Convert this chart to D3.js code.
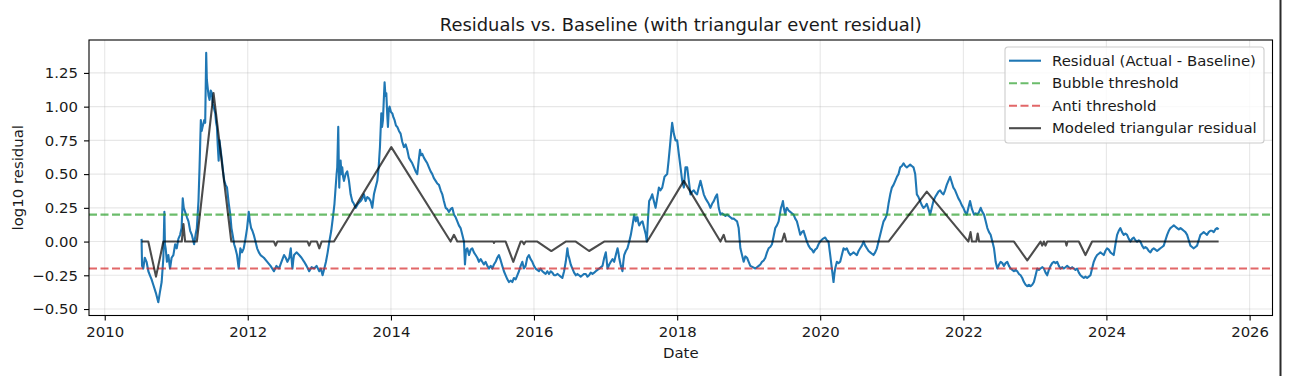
<!DOCTYPE html>
<html>
<head>
<meta charset="utf-8">
<script src="https://cdn.jsdelivr.net/npm/d3@7"></script>
<style>
  body { margin: 0; background: #fff; }
  text { font-family: "DejaVu Sans", sans-serif; fill: #1a1a1a; }
</style>
</head>
<body>
<div id="chart"></div>
<script>
// residual (actual - baseline), dates as decimal years
var resYears = [
  2010.515, 2010.522, 2010.539, 2010.560, 2010.585, 2010.610, 2010.632, 2010.655, 2010.679, 2010.715,
  2010.749, 2010.770, 2010.796, 2010.820, 2010.834, 2010.842, 2010.852, 2010.870, 2010.890, 2010.913,
  2010.935, 2010.960, 2010.985, 2011.007, 2011.030, 2011.054, 2011.075, 2011.091, 2011.105, 2011.124,
  2011.150, 2011.171, 2011.195, 2011.218, 2011.250, 2011.270, 2011.288, 2011.311, 2011.326, 2011.344,
  2011.356, 2011.368, 2011.391, 2011.405, 2011.419, 2011.428, 2011.438, 2011.452, 2011.466, 2011.482,
  2011.499, 2011.510, 2011.522, 2011.546, 2011.558, 2011.569, 2011.580, 2011.593, 2011.605, 2011.616,
  2011.639, 2011.655, 2011.672, 2011.690, 2011.710, 2011.735, 2011.756, 2011.772, 2011.789, 2011.810,
  2011.827, 2011.850, 2011.874, 2011.897, 2011.920, 2011.944, 2011.968, 2011.991, 2012.014, 2012.030,
  2012.047, 2012.065, 2012.084, 2012.108, 2012.131, 2012.155, 2012.178, 2012.225, 2012.272, 2012.318,
  2012.365, 2012.400, 2012.436, 2012.470, 2012.506, 2012.530, 2012.553, 2012.580, 2012.600, 2012.610,
  2012.623, 2012.635, 2012.646, 2012.680, 2012.717, 2012.750, 2012.787, 2012.820, 2012.857, 2012.890,
  2012.927, 2012.960, 2012.998, 2013.020, 2013.044, 2013.068, 2013.091, 2013.115, 2013.138, 2013.165,
  2013.193, 2013.210, 2013.226, 2013.240, 2013.249, 2013.263, 2013.270, 2013.277, 2013.286, 2013.296,
  2013.308, 2013.319, 2013.331, 2013.343, 2013.366, 2013.389, 2013.413, 2013.436, 2013.459, 2013.482,
  2013.506, 2013.540, 2013.576, 2013.600, 2013.622, 2013.645, 2013.669, 2013.693, 2013.716, 2013.739,
  2013.762, 2013.785, 2013.809, 2013.828, 2013.846, 2013.865, 2013.876, 2013.888, 2013.900, 2013.911,
  2013.923, 2013.935, 2013.947, 2013.958, 2013.970, 2013.981, 2014.000, 2014.019, 2014.035, 2014.051,
  2014.070, 2014.089, 2014.112, 2014.135, 2014.158, 2014.182, 2014.205, 2014.228, 2014.252, 2014.275,
  2014.298, 2014.322, 2014.345, 2014.368, 2014.388, 2014.406, 2014.420, 2014.438, 2014.462, 2014.485,
  2014.508, 2014.531, 2014.555, 2014.578, 2014.600, 2014.625, 2014.648, 2014.671, 2014.695, 2014.718,
  2014.740, 2014.765, 2014.788, 2014.811, 2014.835, 2014.858, 2014.881, 2014.905, 2014.928, 2014.950,
  2014.974, 2014.998, 2015.021, 2015.035, 2015.050, 2015.068, 2015.091, 2015.115, 2015.138, 2015.160,
  2015.184, 2015.208, 2015.231, 2015.255, 2015.277, 2015.300, 2015.324, 2015.348, 2015.371, 2015.395,
  2015.417, 2015.440, 2015.464, 2015.487, 2015.510, 2015.535, 2015.557, 2015.580, 2015.604, 2015.628,
  2015.650, 2015.673, 2015.697, 2015.720, 2015.744, 2015.767, 2015.790, 2015.814, 2015.837, 2015.860,
  2015.883, 2015.906, 2015.930, 2015.953, 2015.977, 2016.000, 2016.023, 2016.047, 2016.070, 2016.093,
  2016.117, 2016.140, 2016.163, 2016.186, 2016.210, 2016.233, 2016.256, 2016.280, 2016.303, 2016.326,
  2016.350, 2016.373, 2016.396, 2016.420, 2016.443, 2016.455, 2016.466, 2016.478, 2016.490, 2016.513,
  2016.536, 2016.560, 2016.583, 2016.606, 2016.629, 2016.652, 2016.676, 2016.700, 2016.723, 2016.746,
  2016.769, 2016.792, 2016.816, 2016.840, 2016.862, 2016.885, 2016.909, 2016.932, 2016.956, 2016.980,
  2017.002, 2017.014, 2017.026, 2017.050, 2017.072, 2017.096, 2017.119, 2017.142, 2017.166, 2017.178,
  2017.189, 2017.200, 2017.212, 2017.224, 2017.235, 2017.247, 2017.259, 2017.282, 2017.305, 2017.330,
  2017.352, 2017.375, 2017.399, 2017.410, 2017.422, 2017.433, 2017.445, 2017.457, 2017.469, 2017.492,
  2017.515, 2017.538, 2017.562, 2017.575, 2017.590, 2017.608, 2017.630, 2017.651, 2017.674, 2017.698,
  2017.720, 2017.744, 2017.767, 2017.791, 2017.823, 2017.860, 2017.880, 2017.898, 2017.915, 2017.930,
  2017.953, 2017.977, 2018.000, 2018.023, 2018.047, 2018.070, 2018.093, 2018.116, 2018.140, 2018.163,
  2018.186, 2018.210, 2018.233, 2018.256, 2018.279, 2018.302, 2018.326, 2018.349, 2018.372, 2018.396,
  2018.419, 2018.442, 2018.465, 2018.488, 2018.512, 2018.535, 2018.558, 2018.581, 2018.605, 2018.628,
  2018.651, 2018.675, 2018.698, 2018.721, 2018.744, 2018.767, 2018.791, 2018.814, 2018.837, 2018.860,
  2018.884, 2018.907, 2018.930, 2018.953, 2018.977, 2019.000, 2019.023, 2019.058, 2019.093, 2019.116,
  2019.140, 2019.163, 2019.186, 2019.210, 2019.233, 2019.256, 2019.279, 2019.302, 2019.326, 2019.349,
  2019.372, 2019.395, 2019.419, 2019.435, 2019.451, 2019.465, 2019.479, 2019.495, 2019.512, 2019.524,
  2019.535, 2019.558, 2019.581, 2019.605, 2019.628, 2019.651, 2019.674, 2019.698, 2019.721, 2019.744,
  2019.767, 2019.790, 2019.814, 2019.837, 2019.860, 2019.884, 2019.907, 2019.930, 2019.953, 2019.977,
  2020.000, 2020.035, 2020.070, 2020.093, 2020.116, 2020.140, 2020.163, 2020.186, 2020.198, 2020.209,
  2020.233, 2020.256, 2020.279, 2020.302, 2020.326, 2020.349, 2020.372, 2020.395, 2020.419, 2020.442,
  2020.465, 2020.488, 2020.512, 2020.535, 2020.558, 2020.581, 2020.605, 2020.628, 2020.651, 2020.675,
  2020.698, 2020.721, 2020.744, 2020.767, 2020.791, 2020.814, 2020.837, 2020.860, 2020.884, 2020.907,
  2020.930, 2020.953, 2020.977, 2021.000, 2021.023, 2021.047, 2021.070, 2021.093, 2021.116, 2021.140,
  2021.163, 2021.186, 2021.209, 2021.233, 2021.256, 2021.279, 2021.302, 2021.326, 2021.349, 2021.372,
  2021.395, 2021.418, 2021.442, 2021.465, 2021.488, 2021.512, 2021.535, 2021.558, 2021.581, 2021.605,
  2021.628, 2021.651, 2021.674, 2021.698, 2021.721, 2021.744, 2021.767, 2021.790, 2021.814, 2021.837,
  2021.860, 2021.884, 2021.907, 2021.930, 2021.953, 2021.977, 2022.000, 2022.023, 2022.047, 2022.070,
  2022.093, 2022.120, 2022.149, 2022.172, 2022.195, 2022.220, 2022.242, 2022.265, 2022.288, 2022.312,
  2022.335, 2022.358, 2022.381, 2022.405, 2022.428, 2022.440, 2022.451, 2022.474, 2022.498, 2022.521,
  2022.544, 2022.567, 2022.590, 2022.614, 2022.637, 2022.660, 2022.684, 2022.707, 2022.730, 2022.753,
  2022.777, 2022.800, 2022.823, 2022.847, 2022.870, 2022.893, 2022.917, 2022.940, 2022.963, 2022.986,
  2023.010, 2023.033, 2023.056, 2023.079, 2023.102, 2023.126, 2023.149, 2023.172, 2023.195, 2023.219,
  2023.242, 2023.265, 2023.288, 2023.312, 2023.335, 2023.358, 2023.381, 2023.405, 2023.428, 2023.451,
  2023.474, 2023.498, 2023.521, 2023.544, 2023.567, 2023.591, 2023.614, 2023.637, 2023.660, 2023.684,
  2023.707, 2023.730, 2023.753, 2023.777, 2023.800, 2023.823, 2023.847, 2023.870, 2023.893, 2023.916,
  2023.940, 2023.963, 2023.986, 2024.009, 2024.033, 2024.056, 2024.079, 2024.102, 2024.126, 2024.149,
  2024.172, 2024.195, 2024.218, 2024.242, 2024.265, 2024.288, 2024.312, 2024.335, 2024.358, 2024.381,
  2024.405, 2024.428, 2024.451, 2024.474, 2024.498, 2024.521, 2024.544, 2024.567, 2024.591, 2024.614,
  2024.637, 2024.660, 2024.684, 2024.707, 2024.730, 2024.753, 2024.777, 2024.800, 2024.823, 2024.847,
  2024.870, 2024.893, 2024.917, 2024.940, 2024.963, 2024.986, 2025.010, 2025.033, 2025.056, 2025.079,
  2025.102, 2025.126, 2025.149, 2025.172, 2025.195, 2025.219, 2025.242, 2025.265, 2025.288, 2025.312,
  2025.335, 2025.358, 2025.381, 2025.405, 2025.428, 2025.451, 2025.474, 2025.498, 2025.521, 2025.544,
  2025.567
]
var resValues = [
  0.02, -0.18, -0.20, -0.12, -0.15, -0.22, -0.25, -0.28, -0.32, -0.38,
  -0.45, -0.38, -0.30, -0.12, 0.22, -0.02, -0.05, -0.15, -0.10, -0.20,
  -0.12, -0.10, -0.02, -0.05, 0.02, 0.05, 0.10, 0.32, 0.25, 0.22,
  0.18, 0.15, 0.08, 0.05, -0.02, 0.05, 0.10, 0.30, 0.55, 0.90,
  0.82, 0.85, 0.90, 0.88, 1.40, 1.20, 1.15, 1.08, 1.05, 1.12,
  1.10, 1.02, 1.00, 0.95, 0.88, 0.85, 0.72, 0.60, 0.75, 0.70,
  0.60, 0.52, 0.45, 0.42, 0.40, 0.28, 0.20, 0.10, 0.05, -0.02,
  -0.05, -0.10, -0.20, -0.05, -0.08, -0.05, 0.02, 0.10, 0.22, 0.15,
  0.10, 0.08, 0.05, 0.00, -0.05, -0.08, -0.10, -0.12, -0.15, -0.18,
  -0.22, -0.18, -0.20, -0.15, -0.10, -0.12, -0.15, -0.12, -0.05, -0.12,
  -0.20, -0.14, -0.10, -0.08, -0.10, -0.12, -0.15, -0.18, -0.22, -0.19,
  -0.20, -0.18, -0.22, -0.20, -0.25, -0.20, -0.15, -0.08, 0.00, 0.08,
  0.20, 0.28, 0.40, 0.50, 0.55, 0.85, 0.60, 0.40, 0.55, 0.60,
  0.50, 0.55, 0.48, 0.45, 0.50, 0.52, 0.45, 0.35, 0.30, 0.28,
  0.25, 0.28, 0.30, 0.32, 0.35, 0.30, 0.33, 0.32, 0.30, 0.25,
  0.35, 0.40, 0.45, 0.55, 0.70, 0.95, 0.85, 0.90, 1.05, 1.18,
  1.08, 1.10, 0.95, 0.85, 0.98, 1.00, 0.96, 0.95, 0.92, 0.90,
  0.86, 0.85, 0.82, 0.80, 0.74, 0.70, 0.72, 0.68, 0.62, 0.60,
  0.58, 0.55, 0.52, 0.50, 0.60, 0.68, 0.64, 0.65, 0.62, 0.60,
  0.58, 0.55, 0.52, 0.50, 0.47, 0.45, 0.43, 0.42, 0.38, 0.35,
  0.30, 0.25, 0.24, 0.22, 0.24, 0.25, 0.20, 0.18, 0.15, 0.12,
  0.10, 0.05, 0.00, -0.17, -0.06, -0.05, -0.10, -0.06, -0.05, -0.08,
  -0.10, -0.12, -0.15, -0.13, -0.15, -0.17, -0.15, -0.18, -0.20, -0.18,
  -0.20, -0.17, -0.15, -0.12, -0.10, -0.14, -0.18, -0.22, -0.25, -0.28,
  -0.30, -0.29, -0.30, -0.27, -0.28, -0.25, -0.22, -0.18, -0.15, -0.20,
  -0.18, -0.12, -0.10, -0.13, -0.15, -0.18, -0.20, -0.21, -0.22, -0.20,
  -0.22, -0.23, -0.24, -0.22, -0.24, -0.22, -0.23, -0.25, -0.25, -0.24,
  -0.25, -0.26, -0.27, -0.22, -0.15, -0.10, -0.05, -0.10, -0.12, -0.17,
  -0.20, -0.23, -0.25, -0.24, -0.25, -0.26, -0.25, -0.24, -0.24, -0.26,
  -0.25, -0.23, -0.24, -0.23, -0.22, -0.21, -0.20, -0.19, -0.18, -0.12,
  -0.08, -0.14, -0.20, -0.17, -0.15, -0.13, -0.15, -0.10, -0.05, -0.08,
  -0.12, -0.15, -0.18, -0.20, -0.22, -0.15, -0.10, -0.07, -0.05, 0.00,
  0.05, 0.12, 0.20, 0.17, 0.15, 0.18, 0.18, 0.14, 0.12, 0.14,
  0.15, 0.10, 0.05, 0.00, 0.15, 0.30, 0.32, 0.35, 0.30, 0.25,
  0.32, 0.40, 0.38, 0.40, 0.48, 0.50, 0.60, 0.70, 0.80, 0.88,
  0.80, 0.75, 0.75, 0.65, 0.55, 0.45, 0.40, 0.55, 0.55, 0.45,
  0.35, 0.37, 0.38, 0.36, 0.35, 0.40, 0.45, 0.40, 0.35, 0.32,
  0.30, 0.28, 0.25, 0.28, 0.30, 0.33, 0.35, 0.25, 0.20, 0.21,
  0.20, 0.19, 0.20, 0.19, 0.18, 0.17, 0.17, 0.16, 0.15, 0.10,
  -0.05, -0.10, -0.15, -0.11, -0.12, -0.15, -0.18, -0.19, -0.20, -0.19,
  -0.18, -0.17, -0.15, -0.14, -0.12, -0.08, -0.05, -0.04, -0.02, 0.04,
  0.10, 0.12, 0.15, 0.20, 0.25, 0.27, 0.30, 0.24, 0.20, 0.24,
  0.25, 0.23, 0.22, 0.21, 0.20, 0.17, 0.15, 0.10, 0.05, 0.07,
  0.08, 0.04, 0.00, -0.03, -0.05, -0.06, -0.08, -0.06, -0.05, -0.02,
  0.00, 0.02, 0.03, 0.01, 0.00, -0.10, -0.20, -0.30, -0.24, -0.20,
  -0.15, -0.16, -0.15, -0.10, -0.05, -0.06, -0.05, -0.08, -0.10, -0.09,
  -0.08, -0.09, -0.10, -0.07, -0.05, -0.03, 0.00, -0.03, -0.05, -0.07,
  -0.08, -0.09, -0.10, -0.08, -0.05, 0.00, 0.05, 0.10, 0.15, 0.17,
  0.20, 0.28, 0.35, 0.40, 0.42, 0.45, 0.48, 0.50, 0.55, 0.56,
  0.58, 0.56, 0.55, 0.56, 0.57, 0.56, 0.55, 0.50, 0.35, 0.33,
  0.30, 0.27, 0.25, 0.26, 0.28, 0.24, 0.20, 0.25, 0.30, 0.33,
  0.35, 0.37, 0.38, 0.36, 0.35, 0.38, 0.42, 0.45, 0.48, 0.44,
  0.40, 0.38, 0.35, 0.32, 0.30, 0.27, 0.25, 0.22, 0.20, 0.25,
  0.30, 0.24, 0.20, 0.21, 0.20, 0.22, 0.25, 0.22, 0.20, 0.15,
  0.10, 0.07, 0.05, 0.00, -0.05, -0.10, -0.15, -0.20, -0.17, -0.15,
  -0.16, -0.18, -0.16, -0.15, -0.18, -0.20, -0.21, -0.22, -0.21, -0.22,
  -0.24, -0.25, -0.27, -0.30, -0.32, -0.33, -0.32, -0.33, -0.32, -0.30,
  -0.25, -0.20, -0.21, -0.20, -0.19, -0.20, -0.23, -0.25, -0.21, -0.18,
  -0.16, -0.15, -0.16, -0.15, -0.18, -0.20, -0.19, -0.20, -0.19, -0.18,
  -0.19, -0.20, -0.19, -0.20, -0.21, -0.20, -0.23, -0.25, -0.26, -0.27,
  -0.26, -0.27, -0.26, -0.25, -0.20, -0.15, -0.12, -0.10, -0.09, -0.08,
  -0.09, -0.10, -0.07, -0.05, -0.06, -0.08, -0.09, -0.10, -0.02, 0.05,
  0.08, 0.10, 0.07, 0.05, 0.06, 0.05, 0.02, 0.00, 0.02, 0.03,
  0.01, 0.00, 0.01, 0.00, -0.03, -0.05, -0.04, -0.05, -0.07, -0.08,
  -0.06, -0.05, -0.06, -0.07, -0.06, -0.05, -0.04, -0.03, 0.01, 0.05,
  0.08, 0.10, 0.11, 0.12, 0.11, 0.10, 0.09, 0.10, 0.09, 0.08,
  0.07, 0.05, 0.01, -0.03, -0.04, -0.05, -0.04, -0.03, 0.01, 0.05,
  0.06, 0.07, 0.06, 0.05, 0.07, 0.08, 0.08, 0.07, 0.09, 0.10,
  0.09
]

// modeled triangular residual (piecewise linear)
var modelYears = [
  2010.515, 2010.609, 2010.717, 2010.820, 2011.077, 2011.101, 2011.124, 2011.288, 2011.522, 2011.770,
  2012.365, 2012.389, 2012.412, 2012.834, 2012.857, 2012.880, 2012.965, 2012.998, 2013.030, 2013.203,
  2014.005, 2014.834, 2014.881, 2014.928, 2015.431, 2015.441, 2015.451, 2015.604, 2015.711, 2015.814,
  2015.837, 2015.860, 2015.883, 2016.047, 2016.242, 2016.443, 2016.583, 2016.769, 2016.979, 2017.581,
  2018.093, 2018.605, 2018.651, 2018.679, 2019.465, 2019.498, 2019.526, 2020.953, 2021.488, 2022.070,
  2022.100, 2022.120, 2022.180, 2022.200, 2022.220, 2022.707, 2022.893, 2023.079, 2023.102, 2023.125,
  2023.148, 2023.172, 2023.428, 2023.442, 2023.456, 2023.614, 2023.707, 2023.800, 2025.567
]
var modelValues = [
  0, 0, -0.26, 0, 0, 0.13, 0, 0, 1.10, 0,
  0, -0.03, 0, 0, -0.03, 0, 0, -0.05, 0, 0,
  0.70, 0, 0.05, 0, 0, -0.01, 0, 0, -0.15, 0,
  0, -0.02, 0, 0, -0.07, 0, 0, -0.07, 0, 0,
  0.45, 0, 0.05, 0, 0, 0.06, 0, 0, 0.37, 0,
  0.07, 0, 0, 0.06, 0, 0, -0.14, 0, -0.03, 0,
  -0.03, 0, 0, -0.03, 0, 0, -0.10, 0, 0
]

var bubbleThreshold = 0.2
var antiThreshold = -0.2

var xTickYears = [2010, 2012, 2014, 2016, 2018, 2020, 2022, 2024, 2026]
var yTicks = [-0.5, -0.25, 0, 0.25, 0.5, 0.75, 1.0, 1.25]

var legendLabels = ["Residual (Actual - Baseline)", "Bubble threshold", "Anti threshold", "Modeled triangular residual"]

var margin = {top: 40, right: 17.5, bottom: 60.5, left: 89}
var width = 1290 - margin.left - margin.right
var height = 376 - margin.top - margin.bottom

function yearToDate(yr) {
  var y0 = Math.floor(yr)
  var a = Date.UTC(y0, 0, 1), b = Date.UTC(y0 + 1, 0, 1)
  return new Date(a + (yr - y0) * (b - a))
}

var root = d3.select("#chart")
  .append("svg")
  .attr("width", 1290)
  .attr("height", 376)

root.append("rect").attr("width", 1290).attr("height", 376).attr("fill", "#fff")

var svg = root.append("g")
  .attr("transform", "translate(" + margin.left + "," + margin.top + ")")

var x = d3.scaleUtc()
  .domain([yearToDate(2009.78), yearToDate(2026.32)])
  .range([0, width])

var y = d3.scaleLinear()
  .domain([-0.548, 1.494])
  .range([height, 0])

// grid
svg.append("g").selectAll("line")
  .data(xTickYears)
  .enter().append("line")
  .attr("x1", function(d) { return x(yearToDate(d)) })
  .attr("x2", function(d) { return x(yearToDate(d)) })
  .attr("y1", 0).attr("y2", height)
  .attr("stroke", "#b0b0b0").attr("stroke-opacity", 0.3).attr("stroke-width", 1.1)

svg.append("g").selectAll("line")
  .data(yTicks)
  .enter().append("line")
  .attr("y1", function(d) { return y(d) })
  .attr("y2", function(d) { return y(d) })
  .attr("x1", 0).attr("x2", width)
  .attr("stroke", "#b0b0b0").attr("stroke-opacity", 0.3).attr("stroke-width", 1.1)

var residual = resYears.map(function(d, i) { return {date: yearToDate(d), value: resValues[i]} })
var model = modelYears.map(function(d, i) { return {date: yearToDate(d), value: modelValues[i]} })

var line = d3.line()
  .x(function(d) { return x(d.date) })
  .y(function(d) { return y(d.value) })

svg.append("path")
  .datum(residual)
  .attr("fill", "none")
  .attr("stroke", "#1f77b4")
  .attr("stroke-width", 2.1)
  .attr("stroke-linejoin", "round")
  .attr("d", line)

// thresholds span the whole axes
svg.append("line")
  .attr("x1", 0).attr("x2", width)
  .attr("y1", y(bubbleThreshold)).attr("y2", y(bubbleThreshold))
  .attr("stroke", "#2ca02c").attr("stroke-opacity", 0.7)
  .attr("stroke-width", 2.1).attr("stroke-dasharray", "8,3.5")

svg.append("line")
  .attr("x1", 0).attr("x2", width)
  .attr("y1", y(antiThreshold)).attr("y2", y(antiThreshold))
  .attr("stroke", "#d62728").attr("stroke-opacity", 0.7)
  .attr("stroke-width", 2.1).attr("stroke-dasharray", "8,3.5")

svg.append("path")
  .datum(model)
  .attr("fill", "none")
  .attr("stroke", "#000")
  .attr("stroke-opacity", 0.7)
  .attr("stroke-width", 2.1)
  .attr("stroke-linejoin", "round")
  .attr("d", line)

// axes
var xAxis = svg.append("g")
  .attr("transform", "translate(0," + height + ")")
  .call(d3.axisBottom(x)
    .tickValues(xTickYears.map(yearToDate))
    .tickFormat(d3.utcFormat("%Y"))
    .tickSize(5).tickSizeOuter(0).tickPadding(5.5))
xAxis.select(".domain").remove()

var yAxis = svg.append("g")
  .call(d3.axisLeft(y)
    .tickValues(yTicks)
    .tickFormat(d3.format(".2f"))
    .tickSize(5).tickSizeOuter(0).tickPadding(6))
yAxis.select(".domain").remove()

svg.selectAll(".tick line").attr("stroke", "#000").attr("stroke-width", 1.1)
svg.selectAll(".tick text")
  .attr("font-size", "14.9px")
  .attr("font-family", "DejaVu Sans, sans-serif")
  .attr("fill", "#1a1a1a")

// spines
svg.append("rect")
  .attr("width", width).attr("height", height)
  .attr("fill", "none").attr("stroke", "#000").attr("stroke-width", 1.1)

// labels
root.append("text")
  .attr("x", margin.left + width / 2).attr("y", 31)
  .attr("text-anchor", "middle")
  .attr("font-size", "17.9px")
  .text("Residuals vs. Baseline (with triangular event residual)")

root.append("text")
  .attr("x", margin.left + width / 2).attr("y", 358)
  .attr("text-anchor", "middle")
  .attr("font-size", "14.9px")
  .text("Date")

root.append("text")
  .attr("transform", "translate(18," + (margin.top + height / 2) + ") rotate(-90)")
  .attr("text-anchor", "middle")
  .attr("dominant-baseline", "central")
  .attr("font-size", "14.9px")
  .text("log10 residual")

// legend
var legend = root.append("g").attr("transform", "translate(1005,47)")
legend.append("rect")
  .attr("width", 259).attr("height", 96).attr("rx", 3)
  .attr("fill", "#fff").attr("fill-opacity", 0.8)
  .attr("stroke", "#cccccc").attr("stroke-width", 1.1)

var legendStyles = [
  {color: "#1f77b4", opacity: 1, dash: null},
  {color: "#2ca02c", opacity: 0.7, dash: "8,3.5"},
  {color: "#d62728", opacity: 0.7, dash: "8,3.5"},
  {color: "#000", opacity: 0.7, dash: null}
]

var rows = legend.selectAll(".row")
  .data(legendLabels)
  .enter().append("g")
  .attr("transform", function(d, i) { return "translate(0," + (13.7 + i * 22.5) + ")" })

rows.append("line")
  .attr("x1", 4).attr("x2", 36)
  .attr("stroke", function(d, i) { return legendStyles[i].color })
  .attr("stroke-opacity", function(d, i) { return legendStyles[i].opacity })
  .attr("stroke-dasharray", function(d, i) { return legendStyles[i].dash })
  .attr("stroke-width", 2.1)

rows.append("text")
  .attr("x", 47)
  .attr("dominant-baseline", "central")
  .attr("font-size", "14.9px")
  .text(function(d) { return d })

// dark edge at right of the picture
root.append("rect")
  .attr("x", 1279.5).attr("y", 0).attr("width", 2).attr("height", 376)
  .attr("fill", "#2b2b2b")
</script>
</body>
</html>
